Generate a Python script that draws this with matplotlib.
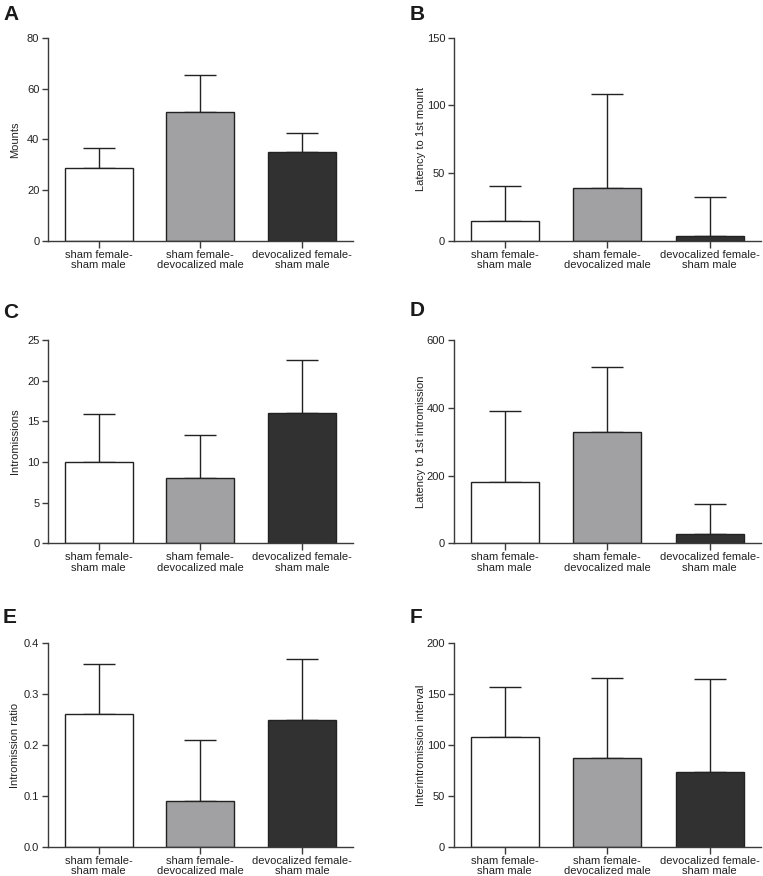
import matplotlib
matplotlib.use("Agg")
import matplotlib.pyplot as plt

plt.rcParams['font.family'] = ['Liberation Sans', 'DejaVu Sans']

groups = ["sham female-\nsham male", "sham female-\ndevocalized male", "devocalized female-\nsham male"]
bar_colors = ["#ffffff", "#a1a1a4", "#313131"]

mounts = [28.6, 50.9, 34.9]
mounts_err = [7.9, 14.4, 7.7]
lat_mount = [15.0, 38.9, 3.9]
lat_mount_err = [25.3, 69.3, 28.3]
intromissions = [10.0, 8.0, 16.0]
intromissions_err = [5.9, 5.3, 6.5]
lat_intro = [182, 329.5, 27.5]
lat_intro_err = [207.5, 191.5, 87.5]
intro_ratio = [0.26, 0.09, 0.25]
intro_ratio_err = [0.10, 0.12, 0.12]
interval = [108.2, 87.5, 73.8]
interval_err = [49.2, 78.1, 90.8]

panels = [
    ("A", "Mounts", mounts, mounts_err, 80, [0, 20, 40, 60, 80], None),
    ("B", "Latency to 1st mount", lat_mount, lat_mount_err, 150, [0, 50, 100, 150], None),
    ("C", "Intromissions", intromissions, intromissions_err, 25, [0, 5, 10, 15, 20, 25], None),
    ("D", "Latency to 1st intromission", lat_intro, lat_intro_err, 600, [0, 200, 400, 600], None),
    ("E", "Intromission ratio", intro_ratio, intro_ratio_err, 0.4, [0.0, 0.1, 0.2, 0.3, 0.4], "%.1f"),
    ("F", "Interintromission interval", interval, interval_err, 200, [0, 50, 100, 150, 200], None),
]

W, H = 763, 876
fig = plt.figure(figsize=(W / 100, H / 100), dpi=100)

col_x = [(47.7, 353), (453.5, 761)]
row_y = [(37.7, 241), (340, 543.3), (643.3, 846.7)]
label_pos = [(3, 20), (410, 20), (3, 318), (410, 316), (3, 623), (410, 623)]

axis_color = "#3a3a3a"
txt_color = "#222222"
for i, (lab, ylab, vals, errs, ymax, ticks, fmt) in enumerate(panels):
    r, c = divmod(i, 2)
    x0, x1 = col_x[c]
    yt, yb = row_y[r]
    ax = fig.add_axes([x0 / W, 1 - yb / H, (x1 - x0) / W, (yb - yt) / H])
    xs = list(range(len(vals)))
    ax.bar(xs, vals, width=0.667, color=bar_colors, edgecolor="#222222", linewidth=1.0, zorder=2)
    ax.errorbar(xs, vals, yerr=[[0] * len(vals), errs], fmt="none", ecolor="#222222",
                elinewidth=1.0, capsize=11.5, capthick=1.0, zorder=1)
    ax.set_xlim(-0.5, 2.5)
    ax.set_ylim(0, ymax)
    ax.set_yticks(ticks)
    if fmt:
        ax.set_yticklabels([fmt % t for t in ticks])
    ax.set_xticks(xs)
    ax.set_xticklabels(groups, fontsize=8, linespacing=1.05, color=txt_color)
    ax.tick_params(axis="y", labelsize=8, length=4, width=1, color=axis_color, pad=2, labelcolor=txt_color)
    ax.tick_params(axis="x", length=5, width=1, color=axis_color, pad=1.5)
    for s in ["top", "right"]:
        ax.spines[s].set_visible(False)
    for s in ["left", "bottom"]:
        ax.spines[s].set_color(axis_color)
        ax.spines[s].set_linewidth(1.0)
    fig.text((x0 - 33) / W, 1 - (yt + yb) / 2 / H, ylab, rotation=90, fontsize=8,
             color=txt_color, ha="center", va="center")
    lx, ly = label_pos[i]
    fig.text(lx / W, 1 - ly / H, lab, fontsize=15, fontweight="bold", color="#1a1a1a",
             ha="left", va="baseline")

fig.savefig("out.png", dpi=100)
